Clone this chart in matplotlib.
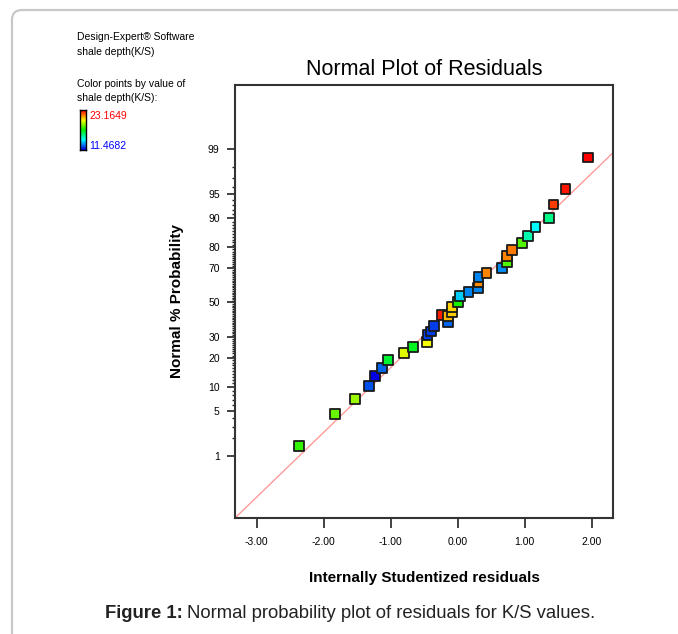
import matplotlib
matplotlib.use("Agg")
import matplotlib.pyplot as plt
import numpy as np
from matplotlib.colors import LinearSegmentedColormap
from matplotlib.patches import FancyBboxPatch
from statistics import NormalDist

# residuals (x) and their normal % probability (y)
residuals = [-2.37, -1.83, -1.53, -1.32, -1.23, -1.13, -1.04, -0.80, -0.67, -0.46,
             -0.45, -0.40, -0.35, -0.23, -0.15, -0.14, -0.08, -0.08, 0.01, 0.03,
             0.16, 0.30, 0.31, 0.31, 0.43, 0.66, 0.73, 0.74, 0.81, 0.96,
             1.05, 1.16, 1.36, 1.43, 1.61, 1.94]
probability = [1.5, 4.5, 7.2, 10.4, 13.4, 16.1, 19.2, 22.1, 25.1, 27.4,
               30.9, 33.0, 35.9, 42.5, 38.6, 42.1, 44.0, 47.2, 50.4, 54.0,
               56.4, 58.7, 62.2, 65.2, 67.4, 69.9, 72.9, 76.1, 78.8, 81.6,
               84.4, 87.3, 90.0, 93.1, 95.7, 98.6]
# shale depth (K/S) used for the point colours
shale_depth = [17.90, 18.49, 19.07, 12.40, 11.47, 12.64, 16.73, 19.89, 16.97, 20.12,
               12.17, 12.17, 12.17, 22.81, 12.64, 21.06, 20.83, 20.71, 17.55, 13.81,
               12.99, 12.99, 21.53, 12.99, 21.64, 13.11, 18.25, 21.64, 21.76, 18.25,
               15.33, 14.39, 15.80, 22.46, 22.93, 23.16]
ks_min, ks_max = 11.4682, 23.1649

line_slope = 0.981
line_intercept = -0.005

prob_ticks = [1, 5, 10, 20, 30, 50, 70, 80, 90, 95, 99]
x_ticks = [-3, -2, -1, 0, 1, 2]

nd = NormalDist()
def z(p):
    return nd.inv_cdf(p / 100.0)

narrow = ["Liberation Sans Narrow", "Liberation Sans", "DejaVu Sans"]
arial = ["Liberation Sans", "DejaVu Sans"]

cmap = LinearSegmentedColormap.from_list(
    "de", ["#0000e0", "#00ffff", "#00f000", "#ffff00", "#ff0000"])

W, H = 678, 634
fig = plt.figure(figsize=(W / 100, H / 100), dpi=100)

def px(x, y):
    return x / W, 1 - y / H

# outer frame
frame = FancyBboxPatch(px(12, 700), 720 / W, 690 / H,
                       boxstyle="round,pad=0,rounding_size=0.015",
                       transform=fig.transFigure, fc="none", ec="#c8c8c8", lw=1.6)
fig.patches.append(frame)

ax = fig.add_axes([235 / W, 1 - 518 / H, 378 / W, 433 / H])
zy = [z(p) for p in probability]
cols = cmap((np.array(shale_depth) - ks_min) / (ks_max - ks_min))

xl = (-3.324, 2.318)
ax.plot(xl, [line_intercept + line_slope * v for v in xl], color="#ff9a9a", lw=1.0, zorder=1)
ax.scatter(residuals, zy, marker="s", s=50, c=cols, edgecolors="#1a1a1a",
           linewidths=1.3, zorder=3)

ax.set_xlim(*xl)
ax.set_ylim(-3.265, 3.295)
ax.set_xticks(x_ticks)
ax.set_xticklabels([f"{v:.2f}" for v in x_ticks], family=narrow, fontsize=7.5)
ax.set_yticks([z(p) for p in prob_ticks])
ax.set_yticklabels([str(p) for p in prob_ticks], family=narrow, fontsize=7.5)
ax.set_yticks([z(p) for p in range(1, 100) if p not in prob_ticks], minor=True)
ax.tick_params(axis="both", which="major", length=6, width=1.2, color="#222", pad=5)
ax.tick_params(axis="x", which="major", length=7, pad=7)
ax.tick_params(axis="y", which="minor", length=2.5, width=1.0, color="#222")
for s in ax.spines.values():
    s.set_linewidth(1.5)
    s.set_color("#333333")

ax.set_title("Normal Plot of Residuals", family=narrow, fontsize=15.5, pad=7)
ax.set_xlabel("Internally Studentized residuals", family=arial, fontweight="bold",
              fontsize=11, labelpad=17)
ax.set_ylabel("Normal % Probability", family=arial, fontweight="bold",
              fontsize=11, labelpad=17)

# Design-Expert header
small = dict(family=narrow, fontsize=7.5, va="center", ha="left")
fig.text(*px(77, 37), "Design-Expert\u00ae Software", **small)
fig.text(*px(77, 52), "shale depth(K/S)", **small)
fig.text(*px(77, 84), "Color points by value of", **small)
fig.text(*px(77, 98), "shale depth(K/S):", **small)
fig.text(*px(89, 116), f"{ks_max:.4f}", color="red", **small)
fig.text(*px(89, 146), f"{ks_min:.4f}", color="blue", **small)
cax = fig.add_axes([80 / W, 1 - 150 / H, 6 / W, 40 / H])
cax.imshow(np.linspace(1, 0, 64)[:, None], aspect="auto", cmap=cmap)
cax.set_xticks([])
cax.set_yticks([])
for s in cax.spines.values():
    s.set_linewidth(1.0)

# caption
r = fig.canvas.get_renderer()
t1 = fig.text(105 / W, 1 - 614 / H, "Figure 1:", family=arial, fontweight="bold",
              fontsize=13.3, va="center", color="#222")
bb = t1.get_window_extent(r)
fig.text((bb.x1 + 4) / W, 1 - 614 / H, "Normal probability plot of residuals for K/S values.",
         family=arial, fontsize=13.3, va="center", color="#222")

fig.savefig("out.png", dpi=100)
